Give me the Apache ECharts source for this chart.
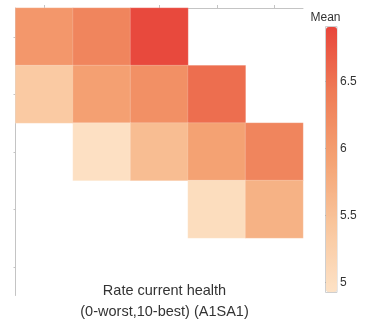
<!DOCTYPE html>
<html>
<head>
<meta charset="utf-8">
<script src="https://cdn.jsdelivr.net/npm/echarts@6/dist/echarts.min.js"></script>
<style>html,body{margin:0;padding:0;background:#fff;}#c{width:369px;height:324px;}</style>
</head>
<body>
<div id="c"></div>
<script>
var xCategories = ['1', '2', '3', '4', '5'];
var yCategories = ['1', '2', '3', '4', '5'];
// [xIndex, yIndex, mean]
var row1 = [[0, 0, 6.06], [1, 0, 6.3], [2, 0, 6.88]];
var row2 = [[0, 1, 5.35], [1, 1, 5.94], [2, 1, 6.16], [3, 1, 6.55]];
var row3 = [[1, 2, 4.96], [2, 2, 5.55], [3, 2, 5.92], [4, 2, 6.3]];
var row4 = [[3, 3, 5.02], [4, 3, 5.7]];
var colorMin = 4.925;
var colorMax = 6.91;
var colorTicks = [5, 5.5, 6, 6.5];
var titleText = 'Rate current health\n(0-worst,10-best) (A1SA1)';
var legendTitle = 'Mean';

var cells = row1.concat(row2, row3, row4);
var axisGray = '#c4c4c4';
var chart = echarts.init(document.getElementById('c'), null, {renderer: 'canvas'});
chart.setOption({
  animation: false,
  backgroundColor: '#fff',
  textStyle: {fontFamily: 'Liberation Sans, Arial, sans-serif'},
  title: {
    text: titleText,
    left: 159.5,
    top: 275,
    textAlign: 'center',
    textStyle: {fontSize: 14.5, fontWeight: 'normal', color: '#333', lineHeight: 21, fontFamily: 'Liberation Sans, Arial, sans-serif'}
  },
  grid: [
    {left: 15.5, top: 8, width: 287.5, height: 287.5},
    {left: 325.5, top: 26.5, width: 11.5, height: 266, show: true, borderColor: '#cfcfcf', borderWidth: 1, backgroundColor: 'transparent'}
  ],
  xAxis: [
    {
      type: 'category', data: xCategories, position: 'top', gridIndex: 0,
      axisLine: {show: true, lineStyle: {color: axisGray, width: 1}},
      axisTick: {show: true, alignWithLabel: true, length: 3, lineStyle: {color: axisGray},
        interval: function (i) { return i !== 1; }},
      axisLabel: {show: false},
      splitLine: {show: false}
    },
    {type: 'value', gridIndex: 1, show: false, min: 0, max: 1}
  ],
  yAxis: [
    {
      type: 'category', data: yCategories, inverse: true, gridIndex: 0,
      axisLine: {show: true, lineStyle: {color: axisGray, width: 1}},
      axisTick: {show: true, alignWithLabel: true, length: 2, lineStyle: {color: axisGray}},
      axisLabel: {show: false},
      splitLine: {show: false}
    },
    {
      type: 'value', gridIndex: 1, position: 'right', min: colorMin, max: colorMax,
      name: legendTitle, nameLocation: 'end', nameGap: 3,
      nameTextStyle: {color: '#333', fontSize: 12, align: 'center', padding: [0, 0, 0, 0]},
      axisLine: {show: false},
      axisTick: {show: true, length: 2, lineStyle: {color: '#999'}, customValues: colorTicks},
      axisLabel: {show: true, color: '#333', fontSize: 12, margin: 3, customValues: colorTicks},
      splitLine: {show: false}
    }
  ],
  visualMap: {
    type: 'continuous', min: colorMin, max: colorMax, calculable: false,
    show: true, left: 326, top: 27, itemWidth: 11, itemHeight: 265,
    text: ['', ''], showLabel: false, textGap: 0, padding: 0,
    inRange: {color: ['#fde2c6', '#f9c69d', '#f4a273', '#ef7d57', '#e8463b']},
    seriesIndex: 0
  },
  series: [{
    type: 'heatmap', xAxisIndex: 0, yAxisIndex: 0, data: cells,
    itemStyle: {borderColor: 'rgba(255,255,255,0.35)', borderWidth: 0.5},
    label: {show: false},
    emphasis: {disabled: true}
  }]
});
</script>
</body>
</html>
